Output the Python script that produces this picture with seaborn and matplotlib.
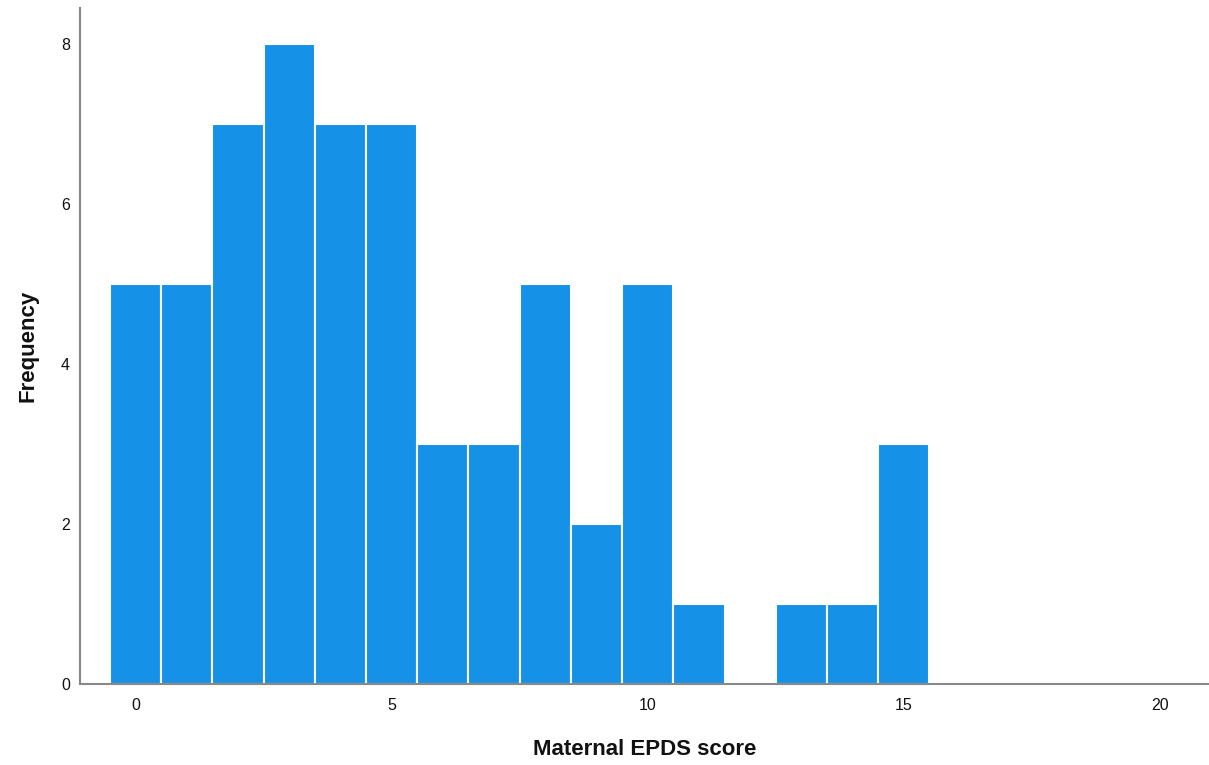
import numpy as np
import pandas as pd
import matplotlib
matplotlib.use('Agg')
import matplotlib.pyplot as plt
import seaborn as sns

# EPDS score bins and their frequencies
scores = [0, 1, 2, 3, 4, 5, 6, 7, 8, 9, 10, 11, 12, 13, 14, 15]
counts = [5, 5, 7, 8, 7, 7, 3, 3, 5, 2, 5, 1, 0, 1, 1, 3]
x_ticks = [0, 5, 10, 15, 20]
y_ticks = [0, 2, 4, 6, 8]

df = pd.DataFrame({'score': scores, 'count': counts})

sns.set_style('white')
plt.rcParams['font.family'] = ['Liberation Sans', 'DejaVu Sans']

fig = plt.figure(figsize=(12.09, 7.65), dpi=100)
ax = fig.add_axes([0.066, 0.106, 0.934, 0.884])

sns.histplot(data=df, x='score', weights='count', discrete=True,
             color='#1591E8', alpha=1, edgecolor='white', linewidth=1.5, ax=ax)

ax.set_xlim(-1.09, 20.96)
ax.set_ylim(0, 8.45)
ax.set_xticks(x_ticks)
ax.set_yticks(y_ticks)
ax.tick_params(axis='both', length=0, labelsize=11.5, colors='#111111')
ax.tick_params(axis='x', pad=10)
ax.tick_params(axis='y', pad=7)

ax.set_xlabel('Maternal EPDS score', fontsize=16, fontweight='bold',
              labelpad=19, color='#111111')
ax.set_ylabel('Frequency', fontsize=16, fontweight='bold',
              labelpad=16, color='#111111')

for s in ['top', 'right']:
    ax.spines[s].set_visible(False)
for s in ['left', 'bottom']:
    ax.spines[s].set_color('#888888')
    ax.spines[s].set_linewidth(1.5)

fig.savefig('out.png', dpi=100)
